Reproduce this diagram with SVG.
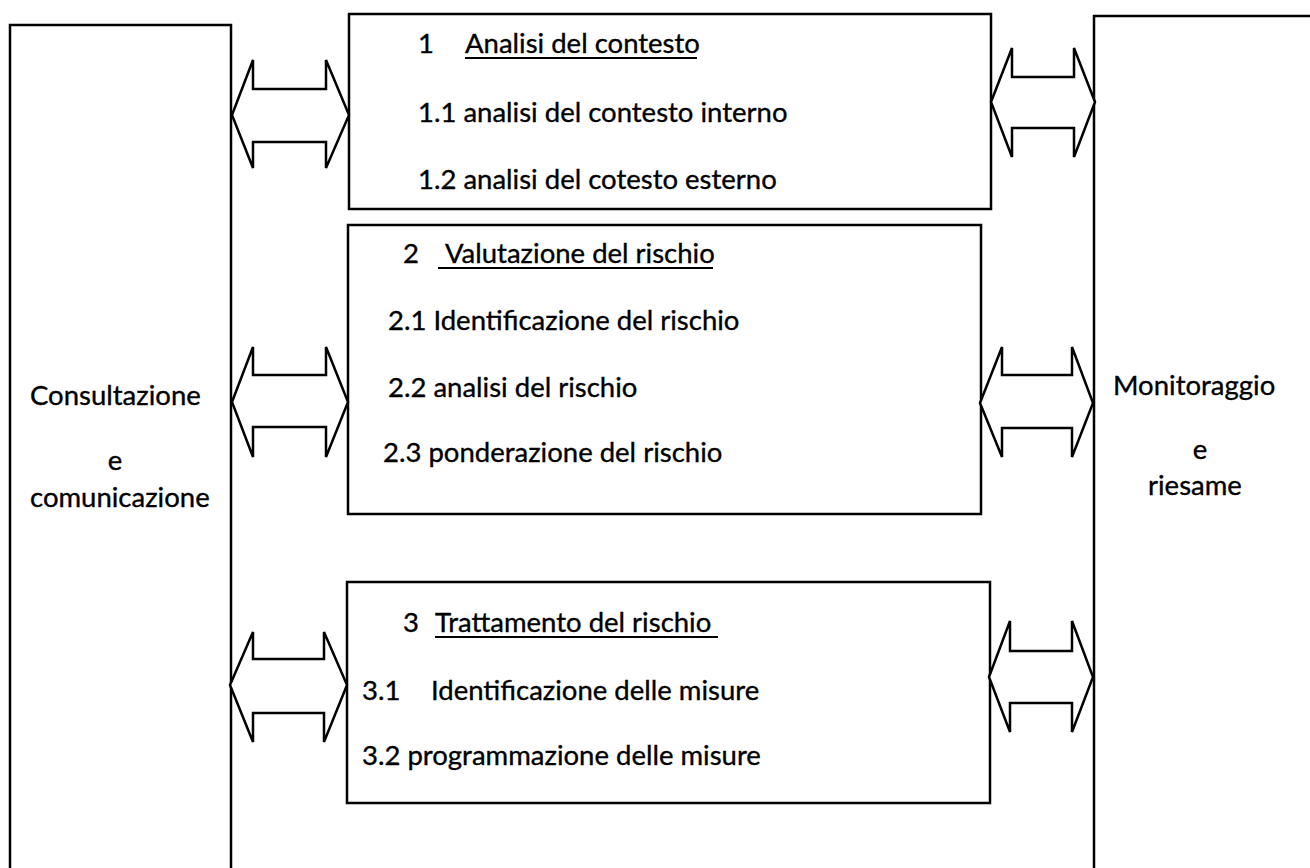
<svg xmlns="http://www.w3.org/2000/svg" width="1310" height="868" viewBox="0 0 1310 868">
<style>
.box{fill:#fff;stroke:#000;stroke-width:2.5}
.arr{fill:#fff;stroke:#000;stroke-width:2.5;stroke-linejoin:miter}
.t{font-family:Lato,"Liberation Sans",sans-serif;font-size:27.5px;fill:#000;stroke:#000;stroke-width:0.35}
.m{text-anchor:middle}
.ul{stroke:#000;stroke-width:2}
</style>
<rect width="1310" height="868" fill="#fff"/>
<g id="consultazione">
<path class="box" d="M10,880 V25 H231 V880"/>
<text class="t" x="30" y="405">Consultazione</text>
<text class="t m" x="115" y="470">e</text>
<text class="t" x="30" y="507">comunicazione</text>
</g>
<g id="monitoraggio">
<path class="box" d="M1320,16 H1094 V880"/>
<text class="t" x="1113" y="395">Monitoraggio</text>
<text class="t m" x="1200" y="459">e</text>
<text class="t" x="1148" y="495">riesame</text>
</g>
<g id="analisi">
<rect class="box" x="349" y="14" width="642" height="195"/>
<text class="t" x="418" y="53">1</text>
<text class="t" x="465" y="53">Analisi del contesto</text>
<line class="ul" x1="465" y1="58" x2="697" y2="58"/>
<text class="t" x="418" y="122">1.1 analisi del contesto interno</text>
<text class="t" x="418" y="189">1.2 analisi del cotesto esterno</text>
</g>
<g id="valutazione">
<rect class="box" x="348" y="225" width="633" height="289"/>
<text class="t" x="403" y="263">2</text>
<text class="t" x="445" y="263">Valutazione del rischio</text>
<line class="ul" x1="438" y1="268" x2="713" y2="268"/>
<text class="t" x="388" y="330">2.1 Identificazione del rischio</text>
<text class="t" x="388" y="397">2.2 analisi del rischio</text>
<text class="t" x="383" y="462">2.3 ponderazione del rischio</text>
</g>
<g id="trattamento">
<rect class="box" x="347" y="582" width="643" height="221"/>
<text class="t" x="403" y="632">3</text>
<text class="t" x="435" y="632">Trattamento del rischio</text>
<line class="ul" x1="435" y1="637" x2="718" y2="637"/>
<text class="t" x="362" y="700">3.1</text>
<text class="t" x="431" y="700">Identificazione delle misure</text>
<text class="t" x="362" y="765">3.2 programmazione delle misure</text>
</g>
<g id="connectors">
<polygon class="arr" points="232,115 253,60 253,89 326,89 326,60 349,115 326,168 326,142 253,142 253,168"/>
<polygon class="arr" points="991,102 1012,48 1012,77 1074,77 1074,48 1095,102 1074,157 1074,128 1012,128 1012,157"/>
<polygon class="arr" points="232,402 253,347 253,375 326,375 326,347 348,402 326,457 326,427 253,427 253,457"/>
<polygon class="arr" points="980,403 1002,347 1002,375 1072,375 1072,347 1093,403 1072,457 1072,428 1002,428 1002,457"/>
<polygon class="arr" points="230,685 253,632 253,659 324,659 324,632 347,685 324,742 324,713 253,713 253,742"/>
<polygon class="arr" points="989,677 1010,621 1010,651 1072,651 1072,621 1093,677 1072,732 1072,703 1010,703 1010,732"/>
</g>
</svg>
